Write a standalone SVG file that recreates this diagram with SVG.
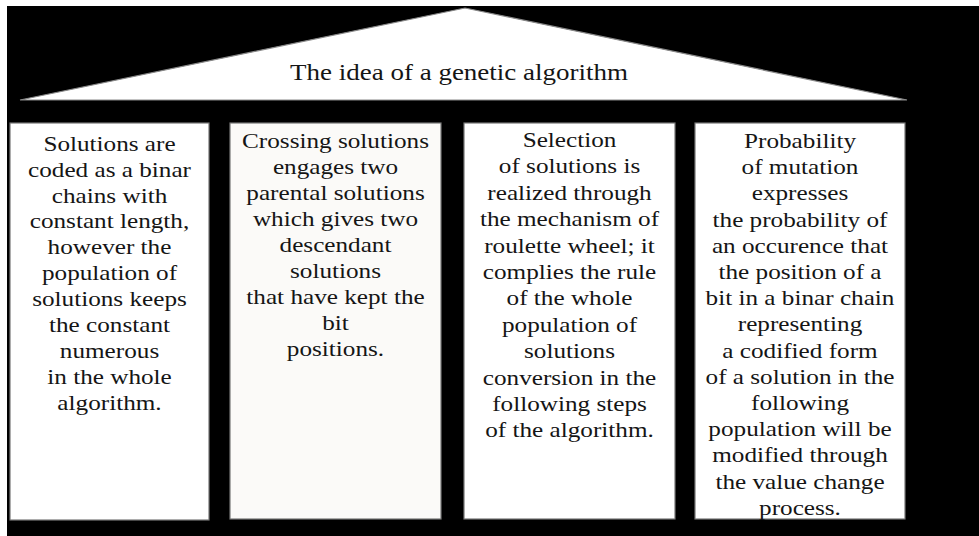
<svg xmlns="http://www.w3.org/2000/svg" width="979" height="536" viewBox="0 0 979 536">
<style>
.bg{fill:#000}
.box{fill:#fff;stroke:#777;stroke-width:1.2}
.t{font-family:"Liberation Serif","Times New Roman",serif;font-size:21px;fill:#151515;text-anchor:middle}
.title{font-family:"Liberation Serif","Times New Roman",serif;font-size:22.5px;fill:#151515;text-anchor:middle}
</style>
<rect class="bg" x="7" y="6" width="972" height="530"/>
<g id="roof">
<polygon points="20,100 465,8 907,100" fill="#fff" stroke="#888" stroke-width="1.2"/>
<g transform="translate(459,0) scale(1.2,1)"><text class="title" x="0" y="80">The idea of a genetic algorithm</text></g>
</g>
<g id="pillar1">
<rect class="box" x="10" y="123" width="199" height="397"/>
<g transform="translate(109.5,0) scale(1.2,1)">
<text class="t" x="0" y="151">Solutions are</text>
<text class="t" x="0" y="177">coded as a binar</text>
<text class="t" x="0" y="203">chains with</text>
<text class="t" x="0" y="228">constant length,</text>
<text class="t" x="0" y="254">however the</text>
<text class="t" x="0" y="280">population of</text>
<text class="t" x="0" y="306">solutions keeps</text>
<text class="t" x="0" y="332">the constant</text>
<text class="t" x="0" y="358">numerous</text>
<text class="t" x="0" y="384">in the whole</text>
<text class="t" x="0" y="410">algorithm.</text>
</g>
</g>
<g id="pillar2">
<rect class="box" x="230" y="123" width="211" height="396" style="fill:#fbfaf8"/>
<g transform="translate(335.5,0) scale(1.2,1)">
<text class="t" x="0" y="148">Crossing solutions</text>
<text class="t" x="0" y="174">engages two</text>
<text class="t" x="0" y="200">parental solutions</text>
<text class="t" x="0" y="226">which gives two</text>
<text class="t" x="0" y="252">descendant</text>
<text class="t" x="0" y="278">solutions</text>
<text class="t" x="0" y="304">that have kept the</text>
<text class="t" x="0" y="330">bit</text>
<text class="t" x="0" y="356">positions.</text>
</g>
</g>
<g id="pillar3">
<rect class="box" x="464" y="123" width="211" height="396"/>
<g transform="translate(569.5,0) scale(1.2,1)">
<text class="t" x="0" y="147">Selection</text>
<text class="t" x="0" y="173.4">of solutions is</text>
<text class="t" x="0" y="199.8">realized through</text>
<text class="t" x="0" y="226.2">the mechanism  of</text>
<text class="t" x="0" y="252.6">roulette wheel; it</text>
<text class="t" x="0" y="279">complies the rule</text>
<text class="t" x="0" y="305.4">of the whole</text>
<text class="t" x="0" y="331.8">population of</text>
<text class="t" x="0" y="358.2">solutions</text>
<text class="t" x="0" y="384.6">conversion in the</text>
<text class="t" x="0" y="411">following steps</text>
<text class="t" x="0" y="437.4">of the algorithm.</text>
</g>
</g>
<g id="pillar4">
<rect class="box" x="695" y="123" width="210" height="396"/>
<g transform="translate(800,0) scale(1.2,1)">
<text class="t" x="0" y="148">Probability</text>
<text class="t" x="0" y="174.2">of mutation</text>
<text class="t" x="0" y="200.4">expresses</text>
<text class="t" x="0" y="226.6">the probability  of</text>
<text class="t" x="0" y="252.8">an occurence that</text>
<text class="t" x="0" y="279">the position of a</text>
<text class="t" x="0" y="305.2">bit in a binar chain</text>
<text class="t" x="0" y="331.4">representing</text>
<text class="t" x="0" y="357.6">a codified form</text>
<text class="t" x="0" y="383.8">of a solution in the</text>
<text class="t" x="0" y="410">following</text>
<text class="t" x="0" y="436.2">population will be</text>
<text class="t" x="0" y="462.4">modified through</text>
<text class="t" x="0" y="488.6">the value change</text>
<text class="t" x="0" y="514.8">process.</text>
</g>
</g>
<g id="connectors"></g>
</svg>
